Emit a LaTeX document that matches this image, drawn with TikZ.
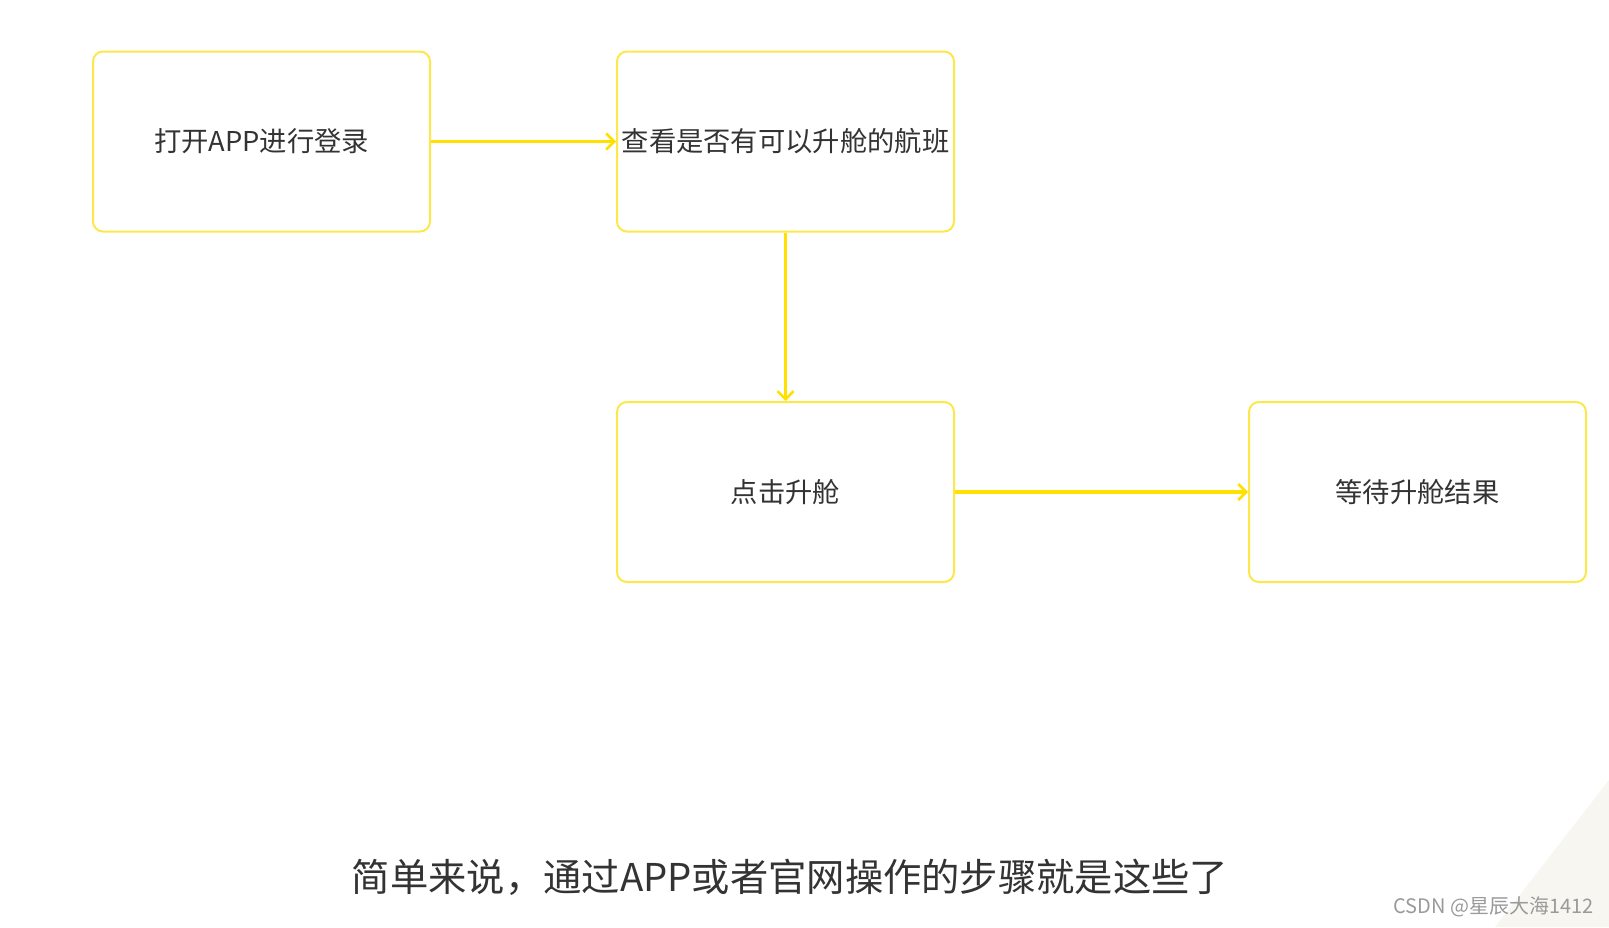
\documentclass[tikz,border=0pt]{standalone}
\usepackage{fontspec}
\setmainfont{Noto Sans CJK SC}
\usetikzlibrary{arrows.meta}
\definecolor{boxyellow}{HTML}{FCE84A}
\definecolor{arrowyellow}{HTML}{FFE000}
\definecolor{txtgray}{HTML}{333333}
\definecolor{wmgray}{HTML}{9A9A9A}
\definecolor{cornergray}{HTML}{F7F6F1}
\tikzset{
  stepbox/.style={draw=boxyellow, line width=2pt, rounded corners=10pt, fill=white,
    minimum width=337pt, minimum height=180pt, inner sep=0pt, text=txtgray,
    font=\fontsize{27.3pt}{31pt}\selectfont},
  flow/.style={draw=arrowyellow, line width=3.2pt, -{Straight Barb[length=8pt,width=16pt,line width=2.5pt]}}
}
\begin{document}
\begin{tikzpicture}[x=1pt,y=-1pt]
\useasboundingbox (0,0) rectangle (1609,927);
\fill[white] (0,0) rectangle (1609,927);
\fill[cornergray] (1609,780) -- (1609,927) -- (1495,927) -- cycle;
\node[stepbox] (a) at (261.5,141.5) {打开APP进行登录};
\node[stepbox] (b) at (785.5,141.5) {查看是否有可以升舱的航班};
\node[stepbox] (c) at (785.5,492) {点击升舱};
\node[stepbox] (d) at (1417.5,492) {等待升舱结果};
\draw[flow] (a.east) -- (b.west);
\draw[flow] (b.south) -- (c.north);
\draw[flow] (c.east) -- (d.west);
\node[text=txtgray, font=\fontsize{38.3pt}{43pt}\selectfont, inner sep=0pt] (cap) at (790,877) {简单来说，通过APP或者官网操作的步骤就是这些了};
\node[text=wmgray, font=\fontsize{20pt}{23pt}\selectfont, inner sep=0pt, anchor=east] (wm) at (1594,907) {CSDN @星辰大海1412};
\end{tikzpicture}
\end{document}
